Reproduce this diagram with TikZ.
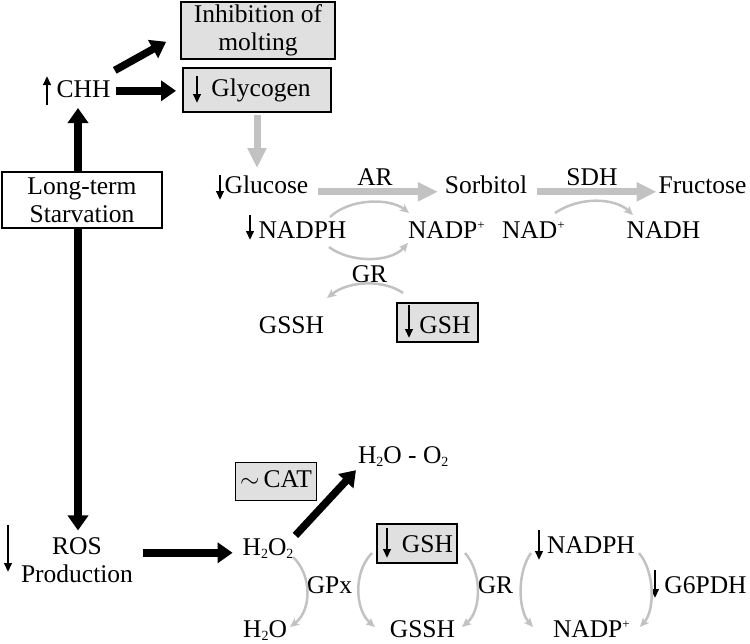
\documentclass[tikz,border=0pt]{standalone}
\usepackage{fontspec}
\setmainfont{Liberation Serif}
\usetikzlibrary{arrows.meta,calc}
\definecolor{boxgray}{gray}{0.88}
\definecolor{arrgray}{gray}{0.76}
\newcommand{\mysub}[1]{\raisebox{-3pt}{\fontsize{14}{14}\selectfont #1}}
\newcommand{\mysup}[1]{\raisebox{9pt}{\fontsize{13}{13}\selectfont #1}}
\begin{document}
\begin{tikzpicture}[x=1pt,y=-1pt,
  every node/.style={font=\fontsize{25.5}{28}\selectfont, inner sep=0pt, outer sep=0pt},
  lbl/.style={anchor=base, text height=17.4pt, text depth=5pt},
  lblw/.style={anchor=base west, text height=17.4pt, text depth=5pt},
  gbox/.style={draw, line width=1.5pt, fill=boxgray},
  wbox/.style={draw, line width=1.5pt, fill=white},
  blk/.style={line width=7.5pt, -{Triangle[length=15pt,width=20pt]}},
  gry/.style={draw=arrgray, line width=7pt, -{Triangle[length=20pt,width=18pt]}},
  gc/.style={draw=arrgray, line width=2.5pt, -{Stealth[length=9pt,width=8pt,inset=2pt]}},
  sa/.style={line width=2.4pt, -{Triangle[length=9pt,width=7.5pt]}}
]
\useasboundingbox (0,0) rectangle (750,643);

% ---- top part ----
\node[gbox, minimum width=154pt, minimum height=57pt, align=center] (inh) at (258,30.5) {Inhibition of\\molting};
\node[gbox, minimum width=148pt, minimum height=44pt] (gly) at (257,90) {};
\node[lbl] (glyt) at (261,96) {Glycogen};
\node[lbl] (chh) at (83.5,97) {CHH};
\node[wbox, minimum width=160pt, minimum height=56pt, align=center] (lts) at (82,200) {Long-term\\Starvation};

\node[lbl] (glu) at (266.5,193) {Glucose};
\node[lbl] (ar) at (375,185) {AR};
\node[lbl] (sor) at (486,193) {Sorbitol};
\node[lbl] (sdh) at (592,185) {SDH};
\node[lbl] (fru) at (702.5,193) {Fructose};
\node[lbl] (nadph1) at (302.5,238) {NADPH};
\node[lblw] (nadp1) at (408,238) {NADP\mysup{+}};
\node[lblw] (nad) at (502,238) {NAD\mysup{+}};
\node[lbl] (nadh) at (663.5,238) {NADH};
\node[lbl] (gr1) at (369.5,282) {GR};
\node[lbl] (gssh1) at (291.5,333) {GSSH};
\node[gbox, minimum width=81pt, minimum height=39pt] (gsh1) at (437.5,322.5) {};
\node[lbl] (gsh1t) at (445,333) {GSH};

% ---- bottom part ----
\node[align=center] (ros) at (77,560.5) {ROS\\Production};
\node[lbl] (h2o2) at (268,555) {H\mysub{2}O\mysub{2}};
\node[gbox, minimum width=81pt, minimum height=38pt, text height=17.4pt, text depth=5pt] (cat) at (276,481.5) {$\sim$\,CAT};
\node[lblw] (hoo) at (358,463) {H\mysub{2}O - O\mysub{2}};
\node[lbl] (gpx) at (329.5,593) {GPx};
\node[lbl] (h2o) at (265,637) {H\mysub{2}O};
\node[gbox, minimum width=80pt, minimum height=39pt] (gsh2) at (417,543.5) {};
\node[lbl] (gsh2t) at (427.5,552) {GSH};
\node[lbl] (gssh2) at (422.5,637) {GSSH};
\node[lbl] (gr2) at (495.5,593) {GR};
\node[lbl] (nadph2) at (591,553) {NADPH};
\node[lbl] (g6pdh) at (705.5,593) {G6PDH};
\node[lblw] (nadp2) at (553,637) {NADP\mysup{+}};

% ---- small up/down arrows ----
\draw[sa] (47,105) -- (47,76);
\draw[sa] (197,76) -- (197,103);
\draw[sa] (220,175) -- (220,200);
\draw[sa] (250,215) -- (250,240);
\draw[sa] (409,305) -- (409,338);
\draw[sa] (8,525) -- (8,572);
\draw[sa] (387,528) -- (387,558);
\draw[sa] (539,530) -- (539,560);
\draw[sa] (655,570) -- (655,598);

% ---- black arrows ----
\draw[blk, shorten <=6pt, shorten >=7pt] (chh.east) -- (chh.east -| gly.west);
\draw[blk, shorten <=5pt, shorten >=17pt] ([yshift=18pt]chh.east) -- ([yshift=-3pt]inh.west);
\draw[blk, shorten >=6pt] ($(lts.north)+(-4,0)$) -- ($(lts.north |- chh.south)+(-4,0)$);
\draw[blk, shorten >=7.5pt] ($(lts.south)+(-4,0)$) -- ($(lts.south |- ros.north)+(-4,0)$);
\draw[blk, shorten <=10pt, shorten >=10pt] ($(ros.east |- h2o2.west)+(0,4)$) -- ($(h2o2.west)+(0,4)$);
\draw[blk, shorten <=3pt, shorten >=3pt] (h2o2.north east) -- (hoo.south west);

% ---- gray thick arrows ----
\draw[gry, shorten <=3pt, shorten >=7.6pt] (gly.south) -- (gly.south |- glu.north);
\draw[gry, shorten <=10pt, shorten >=7pt] ($(glu.east)+(0,5)$) -- ($(sor.west |- glu.east)+(0,5)$);
\draw[gry, shorten <=10pt, shorten >=2pt] ($(sor.east)+(0,5)$) -- ($(fru.west |- sor.east)+(0,5)$);

% ---- gray thin curves ----
\draw[gc] (330,217) .. controls (350,198) and (390,198) .. (409,213);
\draw[gc] (329,247) .. controls (350,263) and (390,263) .. (408,243);
\draw[gc] (403,293) .. controls (385,280) and (350,280) .. (327,298);
\draw[gc] (555,213) .. controls (580,196) and (615,198) .. (633,215);
\draw[gc] (293,557) .. controls (312,575) and (312,610) .. (290,627);
\draw[gc] (372,553) .. controls (353,572) and (355,610) .. (375,627);
\draw[gc] (465,553) .. controls (482,572) and (482,610) .. (462,627);
\draw[gc] (531,553) .. controls (517,572) and (518,610) .. (533,627);
\draw[gc] (639,553) .. controls (655,572) and (655,610) .. (640,627);
\end{tikzpicture}
\end{document}
